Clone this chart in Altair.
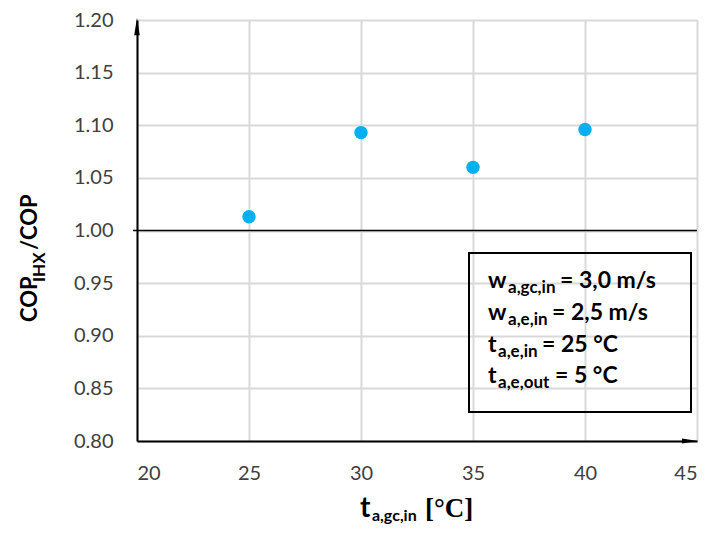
import altair as alt
import pandas as pd

# data
t_gc_in = [25, 30, 35, 40]
cop_ratio = [1.013, 1.093, 1.060, 1.096]
x_ticks = [20, 25, 30, 35, 40, 45]
y_ticks = [0.80, 0.85, 0.90, 0.95, 1.00, 1.05, 1.10, 1.15, 1.20]

W, H = 560, 421
FONT = "Lato"

df = pd.DataFrame({"t": t_gc_in, "r": cop_ratio})

xs = alt.Scale(domain=[20, 45], nice=False, zero=False)
ys = alt.Scale(domain=[0.8, 1.2], nice=False, zero=False)

points = alt.Chart(df).mark_circle(size=180, color="#00B0F0", opacity=1).encode(
    x=alt.X("t:Q", scale=xs, axis=alt.Axis(values=x_ticks, format="d", title=None,
                                          grid=True, ticks=False, labelPadding=22)),
    y=alt.Y("r:Q", scale=ys, axis=alt.Axis(values=y_ticks, format=".2f", title=None,
                                          grid=True, ticks=False, labelPadding=24)),
)

one_line = alt.Chart(pd.DataFrame({"v": [1.0]})).mark_rule(color="black", strokeWidth=1.5).encode(
    y=alt.Y("v:Q", scale=ys), x=alt.value(-4), x2=alt.value(W)
)

def txt(s, px, py, size, bold=True, angle=0, font=FONT, color="black"):
    return alt.Chart(pd.DataFrame({"s": [s]})).mark_text(
        align="left", baseline="alphabetic", fontSize=size, font=font,
        fontWeight="bold" if bold else "normal", angle=angle, color=color
    ).encode(text="s:N", x=alt.value(px), y=alt.value(py))

box = alt.Chart(pd.DataFrame({"a": [0]})).mark_rect(fill=None, fillOpacity=0, stroke="black", strokeWidth=2).encode(
    x=alt.value(332), x2=alt.value(554), y=alt.value(233), y2=alt.value(392)
)

# legend text pieces: main, subscript, rest, baseline, subscript x, rest x
legend_lines = [
    ("w", "a,gc,in", "= 3,0 m/s", 268, 371, 423),
    ("w", "a,e,in", "= 2,5 m/s", 300, 371, 415),
    ("t", "a,e,in", "= 25 °C", 332, 361, 405),
    ("t", "a,e,out", "= 5 °C", 363, 361, 418),
]
legend_layers = []
for main, sub, rest, base, sx, rx in legend_lines:
    legend_layers.append(txt(main, 351, base, 23))
    legend_layers.append(txt(sub, sx, base + 5, 17))
    legend_layers.append(txt(rest, rx, base, 23))

# y title, rotated
ytitle = [
    txt("COP", -100, 302, 22, angle=270),
    txt("IHX", -92, 262, 17, angle=270),
    txt("/COP", -100, 230, 22, angle=270),
]
# x title
xtitle = [
    txt("t", 223, 497, 28),
    txt("a,gc,in", 235, 501, 16),
    txt("[°C]", 288, 497, 27, font="Liberation Serif"),
]

arrow_up = alt.Chart(pd.DataFrame({"a": [0]})).mark_point(
    shape="M-0.32,1 L0,-1 L0.32,1 Z", size=300, filled=True, color="black", opacity=1
).encode(x=alt.value(0), y=alt.value(6.5))
arrow_right = alt.Chart(pd.DataFrame({"a": [0]})).mark_point(
    shape="M-1,-0.32 L1,0 L-1,0.32 Z", size=260, filled=True, color="black", opacity=1
).encode(x=alt.value(W - 7), y=alt.value(H))

chart = alt.layer(
    one_line, points, box, *legend_layers, *ytitle, *xtitle, arrow_up, arrow_right
).properties(
    width=W, height=H,
    autosize=alt.AutoSizeParams(type="none"),
    padding={"left": 129, "top": 12, "right": 5, "bottom": 84},
).configure_view(stroke=None).configure_axis(
    labelFont=FONT, labelFontSize=20, labelColor="#404040",
    gridColor="#d9d9d9", gridWidth=2, domainColor="black", domainWidth=2,
)

chart.save("out.html", embed_options={"renderer": "svg", "actions": False})
